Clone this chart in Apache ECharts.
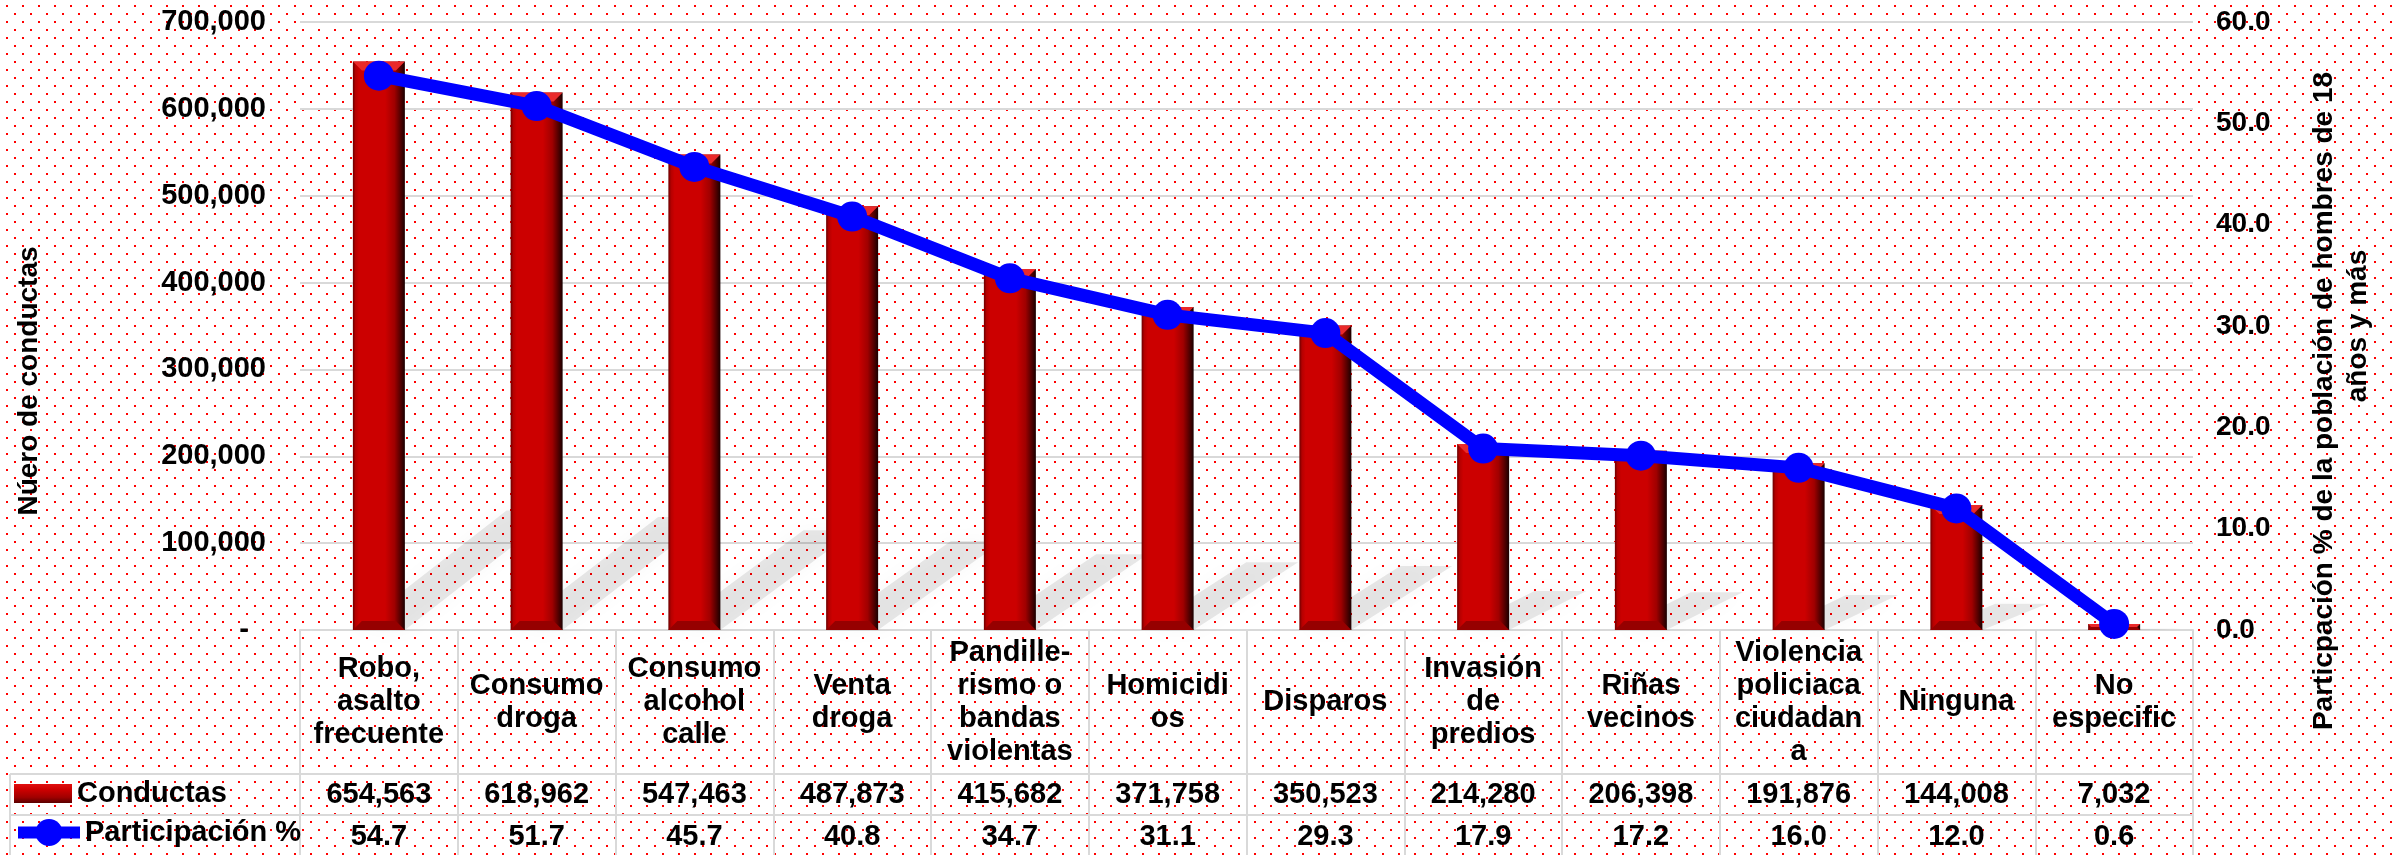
<!DOCTYPE html>
<html>
<head>
<meta charset="utf-8">
<title>Conductas</title>
<script src="https://cdn.jsdelivr.net/npm/echarts@6.0.0/dist/echarts.min.js"></script>
<style>
  html, body { margin: 0; padding: 0; background: #fff; }
  #chart { width: 2392px; height: 855px; background-color: #fff; }
</style>
</head>
<body>
<div id="chart"></div>
<script>
'use strict';

// categorias (con los saltos de linea que trae la tabla)
var categorias = [
  'Robo,\nasalto\nfrecuente', 'Consumo\ndroga', 'Consumo\nalcohol\ncalle', 'Venta\ndroga',
  'Pandille-\nrismo o\nbandas\nviolentas', 'Homicidi\nos', 'Disparos', 'Invasión\nde\npredios',
  'Riñas\nvecinos', 'Violencia\npoliciaca\nciudadan\na', 'Ninguna', 'No\nespecific'
];
// numero de conductas
var conductas = [654563, 618962, 547463, 487873, 415682, 371758, 350523, 214280, 206398, 191876, 144008, 7032];
// participacion %
var participacion = [54.7, 51.7, 45.7, 40.8, 34.7, 31.1, 29.3, 17.9, 17.2, 16.0, 12.0, 0.6];

var FUENTE = '"Liberation Sans", Arial, sans-serif';
var GRIS = '#D9D9D9';

// fondo punteado rojo
var tile = document.createElement('canvas');
tile.width = 16;
tile.height = 16;
var tctx = tile.getContext('2d');
tctx.fillStyle = '#ffffff';
tctx.fillRect(0, 0, 16, 16);
tctx.fillStyle = '#ff0000';
tctx.fillRect(6, 5, 2, 2);
tctx.fillRect(14, 13, 2, 2);
document.getElementById('chart').style.backgroundImage = 'url(' + tile.toDataURL() + ')';

var textoConductas = conductas.map(function(v) { return v.toLocaleString('en-US'); });
var textoParticipacion = participacion.map(function(v) { return v.toFixed(1); });
var puntos = conductas.map(function(v, i) { return [i, v]; });

var chart = echarts.init(document.getElementById('chart'));

var rojoBarra = {
  type: 'linear', x: 0, y: 0, x2: 1, y2: 0,
  colorStops: [
    { offset: 0, color: '#6a0000' },
    { offset: 0.05, color: '#b40000' },
    { offset: 0.12, color: '#cc0000' },
    { offset: 0.62, color: '#cc0000' },
    { offset: 0.8, color: '#a00000' },
    { offset: 0.93, color: '#4a0000' },
    { offset: 1, color: '#1a0000' }
  ]
};

var rojoLeyenda = {
  type: 'linear', x: 0, y: 0, x2: 0, y2: 1,
  colorStops: [
    { offset: 0, color: '#e01010' },
    { offset: 0.3, color: '#cc0000' },
    { offset: 0.7, color: '#a00000' },
    { offset: 1, color: '#5a0000' }
  ]
};

// sombra en perspectiva detras de cada barra
function renderSombra(params, api) {
  var base = api.coord([api.value(0), 0]);
  var tope = api.coord([api.value(0), api.value(1)]);
  var w = 52;
  var h = base[1] - tope[1];
  var dx = 40 + h * 0.2;
  var dy = -h * 0.21;
  var x0 = base[0] - w / 2, x1 = base[0] + w / 2, y0 = base[1];
  return {
    type: 'polygon',
    shape: { points: [[x0, y0], [x1, y0], [x1 + dx, y0 + dy], [x0 + dx, y0 + dy]] },
    style: { fill: 'rgba(0,0,0,0.09)', shadowBlur: 22, shadowColor: 'rgba(0,0,0,0.35)' }
  };
}

// biseles arriba y abajo de la barra
function renderBisel(params, api) {
  var base = api.coord([api.value(0), 0]);
  var tope = api.coord([api.value(0), api.value(1)]);
  var w = 52;
  var b = Math.min(9, (base[1] - tope[1]) / 2);
  var x0 = base[0] - w / 2, x1 = base[0] + w / 2;
  return {
    type: 'group',
    children: [
      {
        type: 'polygon',
        shape: { points: [[x0, tope[1]], [x1, tope[1]], [x1 - b, tope[1] + b], [x0 + b, tope[1] + b]] },
        style: { fill: '#ea2a2a' }
      },
      {
        type: 'polygon',
        shape: { points: [[x0 + b, base[1] - b], [x1 - b, base[1] - b], [x1, base[1]], [x0, base[1]]] },
        style: { fill: '#960000' }
      }
    ]
  };
}

var etiqueta = { fontFamily: FUENTE, fontSize: 29, fontWeight: 'bold', color: '#000' };
var titulo = { fontFamily: FUENTE, fontSize: 28, fontWeight: 'bold', color: '#000', lineHeight: 34 };

var option = {
  animation: false,
  grid: [
    { left: 300, right: 199, top: 22, bottom: 225, containLabel: false, outerBoundsMode: 'none' },
    { left: 300, right: 199, top: 630, bottom: -20, containLabel: false, outerBoundsMode: 'none' }
  ],
  legend: [
    {
      data: [{ name: 'Conductas', itemStyle: { color: rojoLeyenda } }],
      left: 14, top: 779, padding: 0,
      icon: 'rect', itemWidth: 58, itemHeight: 19,
      textStyle: etiqueta
    },
    {
      data: ['Participación %'],
      left: 12, top: 818, padding: 0,
      itemWidth: 62, itemHeight: 34,
      lineStyle: { width: 12 },
      textStyle: etiqueta
    }
  ],
  xAxis: [
    {
      type: 'category', gridIndex: 0, data: categorias, position: 'bottom',
      axisLine: { lineStyle: { color: GRIS, width: 2 } },
      axisTick: { show: false },
      axisLabel: Object.assign({ interval: 0, margin: 72, verticalAlign: 'middle', lineHeight: 33 }, etiqueta)
    },
    {
      type: 'category', gridIndex: 0, data: textoConductas, position: 'bottom',
      axisLine: { show: false }, axisTick: { show: false },
      axisLabel: Object.assign({ interval: 0, margin: 165, verticalAlign: 'middle' }, etiqueta)
    },
    {
      type: 'category', gridIndex: 0, data: textoParticipacion, position: 'bottom',
      axisLine: { show: false }, axisTick: { show: false },
      axisLabel: Object.assign({ interval: 0, margin: 207, verticalAlign: 'middle' }, etiqueta)
    },
    {
      type: 'category', gridIndex: 1, data: categorias, position: 'bottom',
      axisLine: { show: false }, axisTick: { show: false }, axisLabel: { show: false },
      splitLine: { show: true, showMinLine: true, showMaxLine: true, lineStyle: { color: GRIS, width: 2 } }
    }
  ],
  yAxis: [
    {
      type: 'value', gridIndex: 0, position: 'left', min: 0, max: 700000, interval: 100000,
      name: '{a|Núero de conductas}', nameLocation: 'middle', nameRotate: 90, nameGap: 254,
      nameTextStyle: Object.assign({ rich: { a: Object.assign({ padding: [0, 110, 0, 0] }, titulo) } }, titulo),
      axisLine: { show: false }, axisTick: { show: false },
      splitLine: { lineStyle: { color: GRIS, width: 2 } },
      axisLabel: Object.assign({
        margin: 34,
        formatter: function(v) { return v === 0 ? '{z|-}' : v.toLocaleString('en-US'); },
        rich: { z: Object.assign({ padding: [0, 17, 0, 0] }, etiqueta) }
      }, etiqueta)
    },
    {
      type: 'value', gridIndex: 0, position: 'right', min: 0, max: 60, interval: 10,
      name: '{a|Particpación % de la población de hombres de 18}\n{b|años y más}',
      nameLocation: 'middle', nameRotate: 90, nameGap: 114,
      nameTextStyle: Object.assign({
        rich: {
          a: Object.assign({ padding: [0, 150, 0, 0] }, titulo),
          b: titulo
        }
      }, titulo),
      axisLine: { show: false }, axisTick: { show: false }, splitLine: { show: false },
      axisLabel: Object.assign({
        margin: 23,
        formatter: function(v) { return v.toFixed(1); }
      }, etiqueta, { fontSize: 28 })
    },
    {
      type: 'value', gridIndex: 1, show: false
    }
  ],
  graphic: [
    { type: 'line', shape: { x1: 10, y1: 774, x2: 2193, y2: 774 }, style: { stroke: GRIS, lineWidth: 2 }, silent: true },
    { type: 'line', shape: { x1: 10, y1: 815, x2: 2193, y2: 815 }, style: { stroke: GRIS, lineWidth: 2 }, silent: true },
    { type: 'line', shape: { x1: 10, y1: 774, x2: 10, y2: 860 }, style: { stroke: GRIS, lineWidth: 2 }, silent: true }
  ],
  series: [
    {
      name: 'sombra',
      type: 'custom',
      xAxisIndex: 0, yAxisIndex: 0,
      renderItem: renderSombra,
      encode: { x: 0, y: 1 },
      data: puntos,
      z: 1,
      silent: true
    },
    {
      name: 'Conductas',
      type: 'bar',
      xAxisIndex: 0, yAxisIndex: 0,
      barWidth: 52,
      itemStyle: { color: rojoBarra },
      data: conductas,
      z: 2
    },
    {
      name: 'bisel',
      type: 'custom',
      xAxisIndex: 0, yAxisIndex: 0,
      renderItem: renderBisel,
      encode: { x: 0, y: 1 },
      data: puntos,
      z: 3,
      silent: true
    },
    {
      name: 'Participación %',
      type: 'line',
      xAxisIndex: 0, yAxisIndex: 1,
      data: participacion,
      symbol: 'circle',
      symbolSize: 30,
      lineStyle: { color: '#0000ff', width: 13 },
      itemStyle: { color: '#0000ff' },
      z: 4
    }
  ]
};

chart.setOption(option);
window.onresize = chart.resize;
</script>
</body>
</html>
